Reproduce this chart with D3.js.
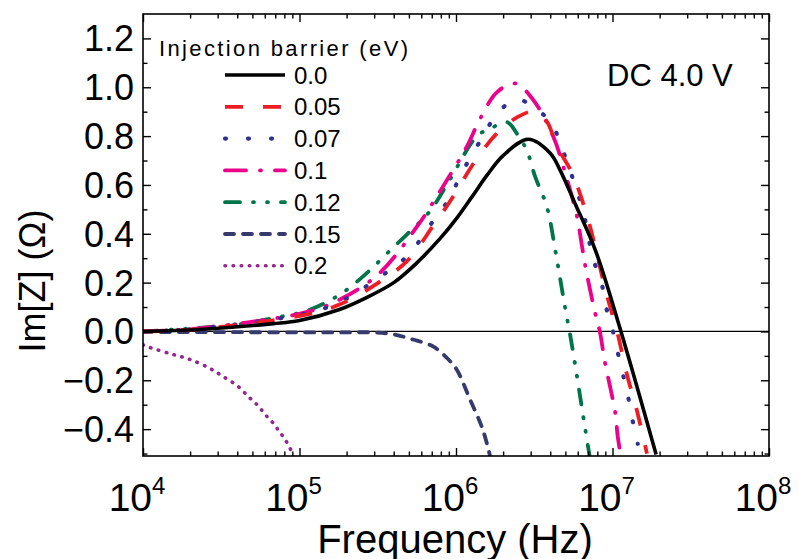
<!DOCTYPE html>
<html>
<head>
<meta charset="utf-8">
<script src="https://cdn.jsdelivr.net/npm/d3@7"></script>
<style>
  body { margin: 0; background: #fff; }
  svg { display: block; }
  text { font-family: "Liberation Sans", Arial, sans-serif; fill: #000; }
</style>
</head>
<body>
<svg id="chart" width="799" height="559"></svg>
<script>
// ---- data: imaginary impedance vs frequency for each injection barrier ----
const barriers = ["0.0", "0.05", "0.07", "0.1", "0.12", "0.15", "0.2"];

const freq_00 = [1e4, 2.3e4, 6.8e4, 1.0e5, 1.8e5, 2.7e5, 4.0e5, 5.6e5, 7.9e5, 1.0e6, 1.26e6, 1.58e6, 2.0e6, 2.9e6, 4.0e6, 4.6e6, 5.8e6, 7.8e6, 1.12e7, 1.9e7];
const imz_00  = [0, 0.008, 0.032, 0.045, 0.09, 0.14, 0.2, 0.28, 0.38, 0.46, 0.55, 0.64, 0.72, 0.787, 0.73, 0.664, 0.52, 0.33, 0.01, -0.504];

const freq_005 = [1e4, 2.3e4, 1.12e5, 1.8e5, 3.2e5, 4.9e5, 7.1e5, 9.1e5, 1.35e6, 1.82e6, 2.5e6, 3.16e6, 3.8e6, 4.4e6, 5.5e6, 6.9e6, 8.3e6, 9.1e6, 1.07e7, 1.23e7, 1.44e7, 1.66e7];
const imz_005  = [0, 0.01, 0.07, 0.11, 0.2, 0.29, 0.43, 0.53, 0.705, 0.81, 0.88, 0.9, 0.86, 0.76, 0.65, 0.47, 0.266, 0.16, 0, -0.17, -0.33, -0.5];

const freq_007 = [1e4, 2.3e4, 1.12e5, 1.8e5, 3.3e5, 4.9e5, 7.1e5, 9.2e5, 1.06e6, 1.49e6, 1.83e6, 2.45e6, 3.98e6, 4.75e6, 5.35e6, 6.5e6, 7.5e6, 8.5e6, 9.1e6, 1.0e7, 1.08e7, 1.17e7, 1.26e7, 1.35e7, 1.45e7];
const imz_007  = [0, 0.012, 0.075, 0.12, 0.225, 0.31, 0.45, 0.55, 0.635, 0.8, 0.89, 0.95, 0.86, 0.75, 0.66, 0.49, 0.3, 0.2, 0.1, 0.008, -0.086, -0.18, -0.27, -0.37, -0.46];

const freq_01 = [1e4, 2.3e4, 1.12e5, 1.8e5, 3.2e5, 5.64e5, 8.26e5, 1.175e6, 1.42e6, 1.83e6, 2.38e6, 3.1e6, 4.17e6, 5.12e6, 5.93e6, 6.38e6, 6.67e6, 7.18e6, 7.73e6, 8.32e6, 8.95e6, 9.64e6, 1.04e7, 1.08e7, 1.13e7];
const imz_01  = [0, 0.013, 0.08, 0.13, 0.235, 0.43, 0.594, 0.758, 0.869, 0.98, 1.016, 0.95, 0.8, 0.623, 0.47, 0.35, 0.275, 0.172, 0.078, -0.004, -0.127, -0.225, -0.33, -0.43, -0.51];

const freq_012 = [1e4, 2.3e4, 4.2e4, 6.8e4, 1.12e5, 1.8e5, 2.7e5, 3.63e5, 4.9e5, 6.76e5, 9.1e5, 1.36e6, 1.65e6, 2.12e6, 2.45e6, 2.84e6, 3.2e6, 3.81e6, 4.3e6, 4.62e6, 4.97e6, 5.35e6, 5.75e6, 6.19e6, 6.66e6, 7.18e6];
const imz_012  = [0, 0.015, 0.03, 0.055, 0.085, 0.15, 0.24, 0.32, 0.4, 0.49, 0.62, 0.8, 0.83, 0.857, 0.81, 0.74, 0.635, 0.51, 0.336, 0.22, 0.1, -0.01, -0.13, -0.26, -0.39, -0.52];

const freq_015 = [1e4, 1.8e5, 2.95e5, 3.98e5, 5.3e5, 7.13e5, 8.7e5, 1.01e6, 1.23e6, 1.48e6, 1.65e6];
const imz_015  = [-0.002, -0.004, -0.004, -0.012, -0.033, -0.061, -0.107, -0.156, -0.279, -0.4, -0.51];

const freq_02 = [1e4, 1.11e4, 1.55e4, 2.0e4, 2.69e4, 3.24e4, 3.98e4, 4.57e4, 5.01e4, 5.5e4, 5.89e4, 6.38e4, 6.92e4, 7.41e4, 7.94e4, 8.51e4, 8.91e4, 9.2e4];
const imz_02  = [-0.055, -0.066, -0.094, -0.115, -0.152, -0.184, -0.221, -0.258, -0.283, -0.307, -0.332, -0.357, -0.381, -0.41, -0.434, -0.467, -0.492, -0.51];

const seriesFreq = [freq_00, freq_005, freq_007, freq_01, freq_012, freq_015, freq_02];
const seriesImZ  = [imz_00, imz_005, imz_007, imz_01, imz_012, imz_015, imz_02];

// axis ticks
const xMajorTicks = [1e4, 1e5, 1e6, 1e7, 1e8];
const xTickExponents = ["4", "5", "6", "7", "8"];
const yMajorTicks = [-0.4, -0.2, 0.0, 0.2, 0.4, 0.6, 0.8, 1.0, 1.2];
const yMinorTicks = [-0.5, -0.3, -0.1, 0.1, 0.3, 0.5, 0.7, 0.9, 1.1];

// ---- styles ----
const colors = ["#000000", "#ee1c25", "#2e3192", "#ec008c", "#00754a", "#363a6c", "#92278f"];
const dashes = ["none", "18,20", "1,22", "21,14,1,14", "15,13,1,13,1,13", "9,9", "0.5,7.6"];
const widths = [3.6, 3.8, 4.2, 3.8, 3.8, 3.8, 3.6];
const caps   = ["butt", "butt", "round", "round", "round", "round", "round"];

// ---- layout ----
const svg = d3.select("#chart");
const L = 143, R = 769, T = 14, B = 456;

const x = d3.scaleLog().domain([1e4, 1e8]).range([L, R]);
const y = d3.scaleLinear().domain([-0.51, 1.30]).range([B, T]);

svg.append("defs").append("clipPath").attr("id", "plot-clip")
  .append("rect").attr("x", L).attr("y", T).attr("width", R - L).attr("height", B - T);

// zero reference line
svg.append("line")
  .attr("x1", L).attr("x2", R).attr("y1", y(0)).attr("y2", y(0))
  .attr("stroke", "#000").attr("stroke-width", 1.3);

// curves
const line = d3.line()
  .x(d => x(d[0]))
  .y(d => y(d[1]))
  .curve(d3.curveCatmullRom.alpha(0.5));

const plot = svg.append("g").attr("clip-path", "url(#plot-clip)");
// draw back-to-front so the black curve stays on top
const order = [6, 5, 4, 3, 2, 1, 0];
order.forEach(i => {
  const pts = seriesFreq[i].map((f, k) => [f, seriesImZ[i][k]]);
  plot.append("path")
    .attr("d", line(pts))
    .attr("fill", "none")
    .attr("stroke", colors[i])
    .attr("stroke-width", widths[i])
    .attr("stroke-dasharray", dashes[i])
    .attr("stroke-linecap", caps[i])
    .attr("stroke-linejoin", "round");
});

// minor x ticks (2..9 in each decade)
const xMinorTicks = [];
for (let d = 1e4; d < 1e8; d *= 10) for (let m = 2; m <= 9; m++) xMinorTicks.push(d * m);

function styleAxis(g) {
  g.select(".domain").remove();
  g.selectAll("line").attr("stroke", "#000").attr("stroke-width", 1.4);
}
// bottom & top
svg.append("g").attr("transform", `translate(0,${B})`)
  .call(d3.axisBottom(x).tickValues(xMajorTicks).tickSize(-8).tickFormat("")).call(styleAxis);
svg.append("g").attr("transform", `translate(0,${B})`)
  .call(d3.axisBottom(x).tickValues(xMinorTicks).tickSize(-4.5).tickFormat("")).call(styleAxis);
svg.append("g").attr("transform", `translate(0,${T})`)
  .call(d3.axisTop(x).tickValues(xMajorTicks).tickSize(-8).tickFormat("")).call(styleAxis);
svg.append("g").attr("transform", `translate(0,${T})`)
  .call(d3.axisTop(x).tickValues(xMinorTicks).tickSize(-4.5).tickFormat("")).call(styleAxis);
// left & right
svg.append("g").attr("transform", `translate(${L},0)`)
  .call(d3.axisLeft(y).tickValues(yMajorTicks).tickSize(-8).tickFormat("")).call(styleAxis);
svg.append("g").attr("transform", `translate(${L},0)`)
  .call(d3.axisLeft(y).tickValues(yMinorTicks).tickSize(-4.5).tickFormat("")).call(styleAxis);
svg.append("g").attr("transform", `translate(${R},0)`)
  .call(d3.axisRight(y).tickValues(yMajorTicks).tickSize(-8).tickFormat("")).call(styleAxis);
svg.append("g").attr("transform", `translate(${R},0)`)
  .call(d3.axisRight(y).tickValues(yMinorTicks).tickSize(-4.5).tickFormat("")).call(styleAxis);

// frame
svg.append("rect").attr("x", L).attr("y", T).attr("width", R - L).attr("height", B - T)
  .attr("fill", "none").attr("stroke", "#000").attr("stroke-width", 1.6);

// y tick labels
const fmtY = d3.format(".1f");
svg.append("g").selectAll("text").data(yMajorTicks).join("text")
  .attr("x", 134).attr("y", d => y(d)).attr("dy", "0.36em")
  .attr("text-anchor", "end").attr("font-size", 36)
  .text(d => fmtY(d));

// x tick labels: 10 with superscript exponent
const xl = svg.append("g").selectAll("text").data(xMajorTicks).join("text")
  .attr("x", d => x(d) - 6).attr("y", 511)
  .attr("text-anchor", "middle").attr("font-size", 39);
xl.append("tspan").text("10");
xl.append("tspan").attr("dy", -17).attr("font-size", 24).text((d, i) => xTickExponents[i]);

// axis titles
svg.append("text").attr("x", 455).attr("y", 553).attr("text-anchor", "middle")
  .attr("font-size", 40).text("Frequency (Hz)");
svg.append("text").attr("transform", "translate(45,281) rotate(-90)")
  .attr("text-anchor", "middle").attr("font-size", 36).text("Im[Z] (Ω)");

// annotation
svg.append("text").attr("x", 607).attr("y", 86).attr("font-size", 31).text("DC 4.0 V");

// legend
svg.append("text").attr("x", 159).attr("y", 56).attr("font-size", 22)
  .attr("textLength", 249).attr("lengthAdjust", "spacing").text("Injection barrier (eV)");
barriers.forEach((b, i) => {
  const cy = 75 + i * 31.8;
  svg.append("line").attr("x1", 225).attr("x2", 285).attr("y1", cy).attr("y2", cy)
    .attr("stroke", colors[i]).attr("stroke-width", widths[i])
    .attr("stroke-dasharray", dashes[i]).attr("stroke-linecap", caps[i]);
  svg.append("text").attr("x", 294).attr("y", cy).attr("dy", "0.36em")
    .attr("font-size", 24).text(b);
});
</script>
</body>
</html>
